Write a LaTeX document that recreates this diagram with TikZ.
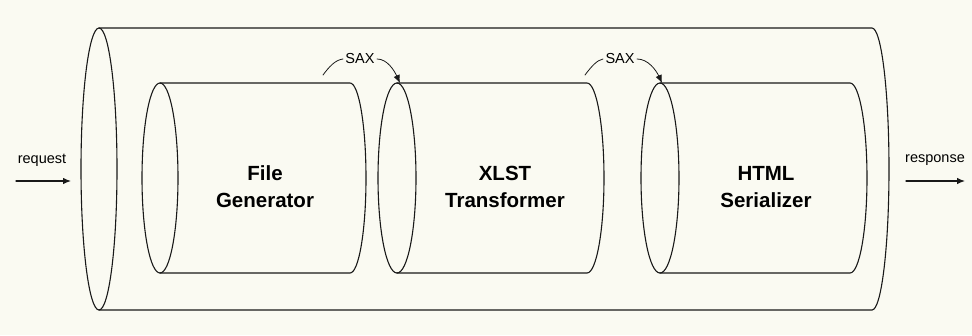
\documentclass[tikz,border=0pt]{standalone}
\usepackage{fontspec}
\setmainfont{Liberation Sans}
\usetikzlibrary{arrows.meta}
\definecolor{paper}{RGB}{250,250,242}
\definecolor{ink}{RGB}{25,25,25}

\begin{document}
\begin{tikzpicture}[x=1pt, y=-1pt, line width=1.1pt, draw=ink, line join=round, line cap=round,
	stage/.style={font=\fontsize{20.5}{27}\selectfont\bfseries, align=center, text=black},
	small/.style={font=\fontsize{14.5}{16}\selectfont, text=black, inner sep=2pt},
	flow/.style={-{Latex[length=8pt,width=6.5pt]}}]
	\fill[paper] (0,0) rectangle (972,335);
	\useasboundingbox (0,0) rectangle (972,335);
	% outer pipe
	\draw (99,169) ellipse (18 and 141);
	\draw (99,28) -- (872,28) arc[start angle=-90, end angle=90, x radius=17, y radius=141] -- (99,310);
	% the three stages
	\draw (160,178) ellipse (18 and 95);
	\draw (160,83) -- (350,83) arc[start angle=-90, end angle=90, x radius=16, y radius=95] -- (160,273);
	\draw (397,178) ellipse (19 and 95);
	\draw (397,83) -- (587,83) arc[start angle=-90, end angle=90, x radius=17, y radius=95] -- (397,273);
	\draw (660,178) ellipse (19 and 95);
	\draw (660,83) -- (850,83) arc[start angle=-90, end angle=90, x radius=17, y radius=95] -- (660,273);
	\node[stage] (filegen) at (265,187) {File\\Generator};
	\node[stage] (xlst) at (505,187) {XLST\\Transformer};
	\node[stage] (html) at (766,187) {HTML\\Serializer};
	% request / response
	\node[small] (req) at (42,160) {request};
	\node[small] (resp) at (935,160) {response};
	\coordinate (reqtail) at (16,181);
	\coordinate (reqhead) at (71,181);
	\coordinate (resptail) at (906,181);
	\coordinate (resphead) at (965,181);
	\draw[flow] (reqtail) -- (reqhead);
	\draw[flow] (resptail) -- (resphead);
	% SAX events
	\node[small] (sax1) at (360,59) {SAX};
	\node[small] (sax2) at (620,59) {SAX};
	\coordinate (out1) at (323,75);
	\coordinate (in1) at (400,83);
	\coordinate (out2) at (585,75);
	\coordinate (in2) at (662,83);
	\draw[line width=0.8pt] (out1) .. controls (329,67) and (335,60) .. (sax1.west);
	\draw[line width=0.8pt, flow] (sax1.east) .. controls (387,59) and (394,70) .. (in1);
	\draw[line width=0.8pt] (out2) .. controls (591,67) and (597,60) .. (sax2.west);
	\draw[line width=0.8pt, flow] (sax2.east) .. controls (648,59) and (656,70) .. (in2);
\end{tikzpicture}
\end{document}
